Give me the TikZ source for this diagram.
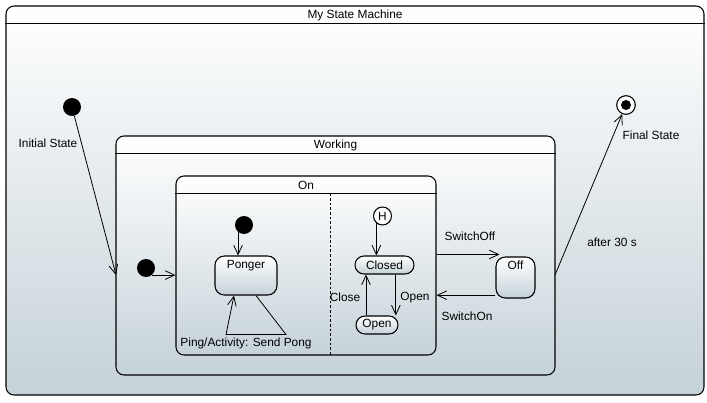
\documentclass[tikz,border=0pt]{standalone}
\usepackage{fontspec}
\setmainfont{Liberation Sans}
\usetikzlibrary{arrows.meta}
\definecolor{stategray}{RGB}{197,210,216}

\begin{document}
\begin{tikzpicture}[x=0.75pt, y=-0.75pt, font=\fontsize{8.9}{10}\selectfont,
  >={Straight Barb[length=7pt,width=6.5pt]},
  region/.style={draw, line width=0.8pt, rounded corners=6pt, top color=white, bottom color=stategray, inner sep=0pt},
  simple/.style={draw, line width=0.8pt, rounded corners=7pt, top color=white, bottom color=stategray, inner sep=0pt},
  pill/.style={draw, line width=0.8pt, rounded corners=6.75pt, top color=white, bottom color=stategray, inner sep=0pt, minimum height=13.5pt},
  startdot/.style={circle, fill=black, minimum size=13.5pt, inner sep=0pt},
  trans/.style={->, line width=0.6pt}]
\useasboundingbox (0,0) rectangle (707,403);
\node[region, minimum width=523.5pt, minimum height=291.75pt] (frame) at (355,200.5) {};
\node (frametitle) at ([yshift=-7.8pt]frame.north) {My State Machine};
\draw[line width=0.8pt] ([yshift=-13.5pt]frame.north west) -- ([yshift=-13.5pt]frame.north east);
\node[region, minimum width=329.25pt, minimum height=179.25pt] (working) at (335.5,255.5) {};
\node (worktitle) at ([yshift=-7.8pt]working.north) {Working};
\draw[line width=0.8pt] ([yshift=-13.5pt]working.north west) -- ([yshift=-13.5pt]working.north east);
\node[region, minimum width=195pt, minimum height=134.25pt] (on) at (306,265.5) {};
\node (ontitle) at ([yshift=-7.8pt]on.north) {On};
\draw[line width=0.8pt] ([yshift=-13.5pt]on.north west) -- ([yshift=-13.5pt]on.north east);
\draw[line width=0.6pt, dash pattern=on 2pt off 1.5pt] ([xshift=18pt,yshift=-13.5pt]on.north) -- ([xshift=18pt]on.south);
\node[startdot] (start) at (72,107) {};
\node[startdot] (onstart) at (146,268) {};
\node[startdot] (pongstart) at (244,225) {};
\node[circle, draw, line width=0.8pt, fill=white, minimum size=14pt, inner sep=0pt] (final) at (626,105) {};
\node[circle, fill=black, minimum size=7.5pt, inner sep=0pt] (finaldot) at (final) {};
\node[circle, draw, line width=0.8pt, fill=white, minimum size=13.5pt, inner sep=0pt] (hist) at (382.5,216) {H};
\node[simple, minimum width=46.5pt, minimum height=29.25pt, label={[anchor=north]north:Ponger}] (ponger) at (246,275.5) {};
\node[simple, minimum width=29.25pt, minimum height=30.75pt, label={[anchor=north]north:Off}] (off) at (515.5,277.5) {};
\node[pill, minimum width=44.25pt] (closed) at (384.5,265) {Closed};
\node[pill, minimum width=31.5pt] (open) at (377,325) {Open};
\coordinate (wkin) at (116,275);
\coordinate (wkout) at (555,275);
\draw[trans] (start) -- (wkin);
\draw[trans] (onstart.-50) -- (onstart.-50 -| on.west);
\draw[trans] (pongstart.-130) -- (pongstart.-130 |- ponger.north);
\draw[trans] ([xshift=7.5pt]ponger.south) -- ++(30,39) -- ++(-60,0) -- ([xshift=-9pt]ponger.south);
\draw[trans] (hist.-130) -- (hist.-130 |- closed.north);
\draw[trans] ([xshift=8.5pt]closed.south) -- ([xshift=8.5pt]closed.south |- open.north);
\draw[trans] ([xshift=-8.25pt]open.north) -- ([xshift=-8.25pt]open.north |- closed.south);
\draw[trans] ([yshift=1.5pt]off.north west -| on.east) -- ([xshift=3pt,yshift=1.5pt]off.north west);
\draw[trans] ([yshift=2.5pt]off.south west) -- ([yshift=2.5pt]off.south west -| on.east);
\draw[trans] (wkout) -- (final);
\node (initlabel) at (48,143) {Initial State};
\node (finallabel) at (651,135) {Final State};
\node (afterlabel) at (612,242) {after 30 s};
\node (offlabel) at (470,236) {SwitchOff};
\node (onlabel) at (467,316) {SwitchOn};
\node (closelabel) at (345,297) {Close};
\node (openlabel) at (415,298) {Open};
\node (pinglabel) at (246,343) {Ping/Activity: Send Pong};
\end{tikzpicture}
\end{document}
